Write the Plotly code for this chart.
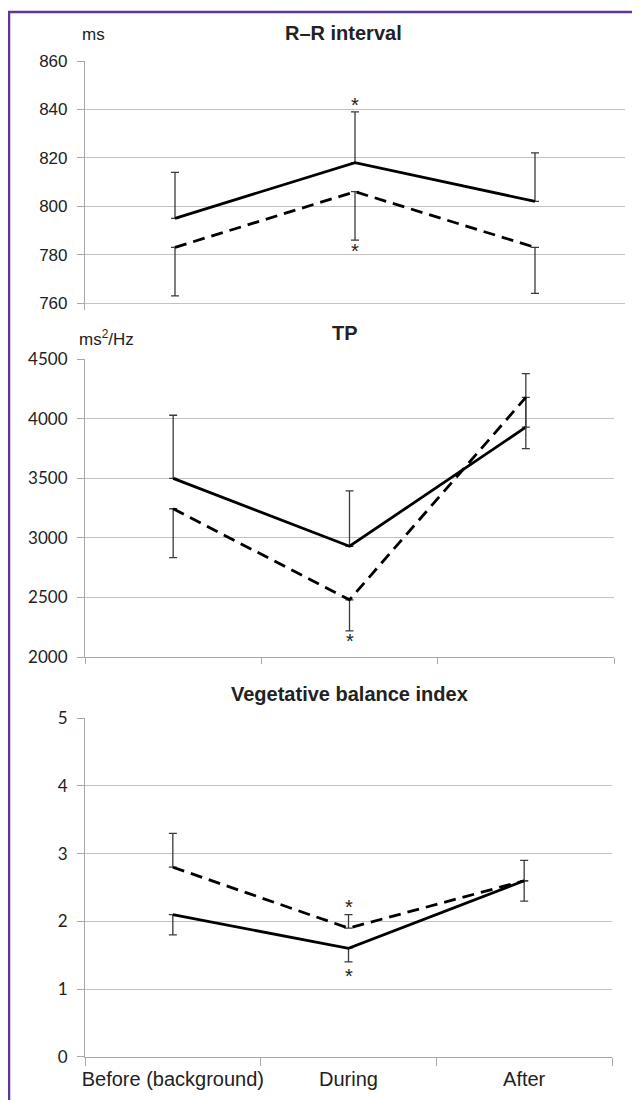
import plotly.graph_objects as go

W, H = 640, 1100
OFF = 8  # page body margin of the HTML page

categories = ["Before (background)", "During", "After"]

# Panel 1: R-R interval (ms)
rr_solid = [795, 818, 802]
rr_solid_err_up = [19, 21, 20]
rr_dash = [783, 806, 783]
rr_dash_err_down = [20, 20, 19]
rr_ticks = [760, 780, 800, 820, 840, 860]
rr_star_y = [842.0, 781.5]

# Panel 2: TP (ms2/Hz)
tp_solid = [3500, 2930, 3930]
tp_solid_err_up = [530, 465, 450]
tp_dash = [3245, 2480, 4180]
tp_dash_err_down = [410, 260, 430]
tp_ticks = [2000, 2500, 3000, 3500, 4000, 4500]
tp_star_y = [2135]

# Panel 3: Vegetative balance index
vb_solid = [2.1, 1.6, 2.6]
vb_solid_err_down = [0.3, 0.2, 0.3]
vb_dash = [2.8, 1.9, 2.6]
vb_dash_err_up = [0.5, 0.2, 0.3]
vb_ticks = [0, 1, 2, 3, 4, 5]
vb_star_y = [2.21, 1.19]

LINE = "#000000"
ERR = "#3a3a3a"
GRID = "#c3c3c3"
AXIS = "#a8a8a8"
TXT = "#222222"


def px_x(p):
    return (p - OFF) / W


def px_y(p):
    return 1 - (p - OFF) / H


fig = go.Figure()


def add_pair(xa, ya, solid, solid_err, solid_up, dash, dash_err, dash_up):
    zeros = [0] * len(solid)
    fig.add_trace(go.Scatter(
        x=categories, y=solid, mode="lines", xaxis=xa, yaxis=ya,
        line=dict(color=LINE, width=2.8),
        error_y=dict(type="data", symmetric=False,
                     array=solid_err if solid_up else zeros,
                     arrayminus=zeros if solid_up else solid_err,
                     color=ERR, thickness=1.3, width=4),
        showlegend=False, hoverinfo="skip"))
    fig.add_trace(go.Scatter(
        x=categories, y=dash, mode="lines", xaxis=xa, yaxis=ya,
        line=dict(color=LINE, width=2.8, dash="12px,7px"),
        error_y=dict(type="data", symmetric=False,
                     array=dash_err if dash_up else zeros,
                     arrayminus=zeros if dash_up else dash_err,
                     color=ERR, thickness=1.3, width=4),
        showlegend=False, hoverinfo="skip"))


add_pair("x", "y", rr_solid, rr_solid_err_up, True, rr_dash, rr_dash_err_down, False)
add_pair("x2", "y2", tp_solid, tp_solid_err_up, True, tp_dash, tp_dash_err_down, False)
add_pair("x3", "y3", vb_solid, vb_solid_err_down, False, vb_dash, vb_dash_err_up, True)

yax_common = dict(showline=True, linecolor=AXIS, linewidth=1.2,
                  ticks="outside", ticklen=7, tickcolor=AXIS, tickwidth=1.2,
                  showgrid=True, gridcolor=GRID, gridwidth=1.2,
                  zeroline=False, ticklabelstandoff=6, automargin=False)

xax_hidden = dict(type="category", showline=False, showgrid=False,
                  zeroline=False, ticks="", showticklabels=False,
                  range=[-0.5, 2.5], automargin=False)

fig.update_layout(
    template="none",
    width=W, height=H,
    margin=dict(l=0, r=0, t=0, b=0, pad=0, autoexpand=False),
    paper_bgcolor="white", plot_bgcolor="white",
    showlegend=False,
    xaxis=dict(domain=[px_x(85), px_x(625)], anchor="y", **xax_hidden),
    yaxis=dict(domain=[px_y(310.3), px_y(61)], anchor="x",
               range=[757, 860], tickvals=rr_ticks,
               tickfont=dict(family="Liberation Sans, Arial, sans-serif", size=17, color=TXT),
               **yax_common),
    xaxis2=dict(domain=[px_x(85), px_x(614)], anchor="y2", type="category",
                range=[-0.5, 2.5], showline=True, linecolor=AXIS, linewidth=1.2,
                showgrid=False, zeroline=False, ticks="outside", ticklen=6,
                tickcolor=AXIS, tickwidth=1.2, tickson="boundaries",
                showticklabels=False, automargin=False),
    yaxis2=dict(domain=[px_y(657), px_y(359.3)], anchor="x2",
                range=[2000, 4500], tickvals=tp_ticks,
                tickfont=dict(family="Lato, Liberation Sans, sans-serif", size=17, color=TXT),
                **yax_common),
    xaxis3=dict(domain=[px_x(85), px_x(612)], anchor="y3", type="category",
                range=[-0.5, 2.5], showline=True, linecolor=AXIS, linewidth=1.2,
                showgrid=False, zeroline=False, ticks="outside", ticklen=8,
                tickcolor=AXIS, tickwidth=1.2, tickson="boundaries",
                tickangle=0, automargin=False,
                tickfont=dict(family="Liberation Sans, Arial, sans-serif", size=20, color=TXT),
                ticklabelstandoff=4),
    yaxis3=dict(domain=[px_y(1056.7), px_y(718.3)], anchor="x3",
                range=[0, 5], tickvals=vb_ticks,
                tickfont=dict(family="Lato, Liberation Sans, sans-serif", size=17, color=TXT),
                **yax_common),
)

title_font = dict(family="Liberation Sans, Arial, sans-serif", size=20, color=TXT)
unit_font = dict(family="Liberation Sans, Arial, sans-serif", size=17, color=TXT)
star_font = dict(family="Liberation Sans, Arial, sans-serif", size=20, color=TXT)

annotations = [
    dict(text="<b>R\u2013R interval</b>", x=px_x(343), y=px_y(33), xref="paper", yref="paper",
         showarrow=False, font=title_font, xanchor="center", yanchor="middle"),
    dict(text="ms", x=px_x(80), y=px_y(35), xref="paper", yref="paper",
         showarrow=False, font=unit_font, xanchor="left", yanchor="middle"),
    dict(text="<b>TP</b>", x=px_x(345), y=px_y(333), xref="paper", yref="paper",
         showarrow=False, font=title_font, xanchor="center", yanchor="middle"),
    dict(text="ms<sup>2</sup>/Hz", x=px_x(77), y=px_y(338), xref="paper", yref="paper",
         showarrow=False, font=unit_font, xanchor="left", yanchor="middle"),
    dict(text="<b>Vegetative balance index</b>", x=px_x(349), y=px_y(694), xref="paper", yref="paper",
         showarrow=False, font=title_font, xanchor="center", yanchor="middle"),
]
for yv in rr_star_y:
    annotations.append(dict(text="*", x="During", y=yv, xref="x", yref="y", showarrow=False,
                            font=star_font, xanchor="center", yanchor="middle"))
for yv in tp_star_y:
    annotations.append(dict(text="*", x="During", y=yv, xref="x2", yref="y2", showarrow=False,
                            font=star_font, xanchor="center", yanchor="middle"))
for yv in vb_star_y:
    annotations.append(dict(text="*", x="During", y=yv, xref="x3", yref="y3", showarrow=False,
                            font=star_font, xanchor="center", yanchor="middle"))
fig.update_layout(annotations=annotations)

# purple frame (top and left edges visible)
fig.add_shape(type="rect", xref="paper", yref="paper",
              x0=px_x(9), x1=1.2, y0=-0.2, y1=px_y(12),
              line=dict(color="#5f3597", width=2.5), fillcolor="rgba(0,0,0,0)",
              layer="above")

fig.write_html("out.html")
